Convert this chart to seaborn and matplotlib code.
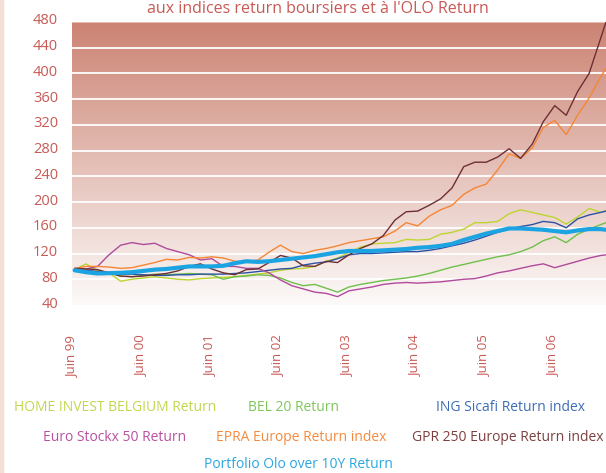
import numpy as np
import pandas as pd
import matplotlib
matplotlib.use("Agg")
import matplotlib.pyplot as plt
import seaborn as sns
from matplotlib.colors import LinearSegmentedColormap
from matplotlib.patches import Rectangle
from matplotlib.transforms import ScaledTranslation

# one value every two months, mid-June 1999 to mid-March 2007
dates = pd.date_range("1999-06-01", "2007-02-01", freq="2MS") + pd.Timedelta(days=14)
dates = dates.append(pd.DatetimeIndex(["2007-03-15"]))

series_names = [
    "HOME INVEST BELGIUM Return",
    "BEL 20 Return",
    "ING Sicafi Return index",
    "Euro Stockx 50 Return",
    "EPRA Europe Return index",
    "GPR 250 Europe Return index",
    "Portfolio Olo over 10Y Return",
]

home_invest = [95, 104, 93, 90, 77, 80, 82, 84, 82, 80, 79, 81, 82, 83, 84, 86,
               88, 90, 94, 96, 97, 100, 108, 113, 122, 130, 135, 136, 137, 142, 141, 142,
               150, 153, 158, 168, 168, 170, 182, 188, 184, 180, 176, 166, 177, 190, 184, 187]
bel20 = [96, 93, 92, 90, 85, 84, 86, 88, 87, 88, 89, 88, 87, 80, 84, 85,
         87, 86, 82, 75, 70, 72, 66, 60, 68, 72, 75, 78, 80, 82, 85, 89,
         94, 99, 103, 107, 111, 115, 118, 123, 130, 140, 146, 137, 150, 158, 165, 168]
ing_sicafi = [96, 94, 92, 90, 88, 88, 87, 86, 86, 87, 87, 88, 88, 88, 89, 90,
              92, 94, 96, 97, 102, 105, 107, 112, 118, 120, 120, 121, 122, 123, 123, 125,
              128, 132, 136, 141, 147, 153, 158, 162, 165, 170, 168, 160, 174, 180, 184, 186]
euro_stoxx = [96, 96, 100, 118, 133, 137, 134, 136, 128, 123, 118, 110, 112, 100, 100, 97,
              97, 90, 79, 70, 65, 60, 58, 53, 62, 65, 68, 72, 74, 75, 74, 75,
              76, 78, 80, 81, 85, 90, 93, 97, 101, 104, 98, 103, 108, 113, 117, 118]
epra = [97, 100, 100, 99, 97, 98, 102, 106, 111, 110, 114, 113, 115, 113, 108, 107,
        110, 122, 133, 123, 120, 125, 128, 132, 137, 140, 143, 146, 155, 168, 163, 178,
        188, 195, 212, 222, 228, 250, 275, 268, 284, 316, 327, 305, 335, 362, 395, 408]
gpr250 = [97, 96, 95, 90, 85, 84, 85, 87, 89, 93, 100, 104, 96, 90, 87, 95,
          96, 106, 117, 113, 101, 100, 108, 106, 118, 128, 135, 148, 172, 185, 186, 195,
          205, 222, 255, 262, 262, 270, 283, 268, 290, 325, 350, 335, 372, 400, 455, 480]
olo = [94, 91, 89, 89.5, 90, 91, 93, 95, 96, 98, 100, 100, 100, 101, 105, 108,
       107, 108, 110, 112, 114, 116, 119, 122, 124, 124, 124, 125, 126, 127, 129, 130,
       132, 135, 141, 146, 151, 155, 159, 159, 158, 157, 155, 153, 156, 158, 158, 157]

line_colors = ["#bdd531", "#6fc04a", "#2c52a3", "#b04a9c", "#f58634", "#6e2f34", "#1ca4e2"]
text_colors = ["#c3d64f", "#7cc65c", "#3d6db4", "#b9519f", "#f48a3e", "#7d4040", "#2aa7df"]
line_widths = [1.0, 1.0, 1.0, 1.0, 1.0, 1.0, 3.0]

y_ticks = list(range(40, 481, 40))
x_tick_years = list(range(1999, 2007))
x_tick_labels = ["Juin 99", "Juin 00", "Juin 01", "Juin 02", "Juin 03", "Juin 04", "Juin 05", "Juin 06"]
title = "aux indices return boursiers et à l'OLO Return"

values = [home_invest, bel20, ing_sicafi, euro_stoxx, epra, gpr250, olo]
df = pd.DataFrame({
    "date": np.tile(dates.values, len(series_names)),
    "serie": np.repeat(series_names, len(dates)),
    "value": np.concatenate(values),
})

sns.set_theme(style="white")
plt.rcParams["font.family"] = ["Open Sans", "DejaVu Sans"]
red = "#c85a55"

fig = plt.figure(figsize=(6.06, 4.73), dpi=100)
ax = fig.add_axes([72 / 606, 168 / 473, 534 / 606, 283 / 473])

# background gradient, pale at the bottom, salmon at the top
grad = np.linspace(0, 1, 256).reshape(-1, 1)
cmap = LinearSegmentedColormap.from_list("bg", ["#fcfaf9", "#cc8373"])
ax.imshow(grad, extent=[0, 1, 0, 1], transform=ax.transAxes, origin="lower",
          cmap=cmap, aspect="auto", zorder=0)
for y in y_ticks[1:-1]:
    ax.axhline(y, color="white", lw=1.3, zorder=1)
ax.axhline(480, color="#ebcabe", lw=1.2, zorder=1)

sns.lineplot(data=df, x="date", y="value", hue="serie", hue_order=series_names,
             palette=dict(zip(series_names, line_colors)),
             size="serie", sizes=dict(zip(series_names, line_widths)),
             legend=False, ax=ax, zorder=3)

ax.set_xlim(pd.Timestamp("1999-06-01"), pd.Timestamp("2007-03-15"))
ax.set_ylim(40, 480)
ax.set_yticks(y_ticks)
ax.set_xticks([pd.Timestamp(f"{y}-06-01") for y in x_tick_years])
ax.set_xticklabels(x_tick_labels, rotation=90, ha="center", va="top")
ax.set_xlabel("")
ax.set_ylabel("")
ax.tick_params(axis="x", length=0, pad=22, labelsize=9.5, labelcolor=red)
ax.tick_params(axis="y", length=0, pad=10, labelsize=10.5, labelcolor=red)
for lab in ax.get_yticklabels():
    lab.set_transform(lab.get_transform() + ScaledTranslation(0, 0.03, fig.dpi_scale_trans))
for s in ax.spines.values():
    s.set_visible(False)

fig.patches.append(Rectangle((0, 0), 3 / 606, 1, transform=fig.transFigure,
                             color="#f6dfd4", zorder=0))

fig.text(318 / 606, 1 - 1 / 473, title, ha="center", va="top", color=red, fontsize=11.5)

# colored labels under the chart
legend_pos = [(115, 407), (294, 407), (510, 407),
              (115, 437), (301, 437), (508, 437),
              (298, 464)]
for name, col, (px, py) in zip(series_names, text_colors, legend_pos):
    fig.text(px / 606, 1 - py / 473, name, ha="center", va="center", color=col, fontsize=10)

fig.savefig("out.png", dpi=100)
